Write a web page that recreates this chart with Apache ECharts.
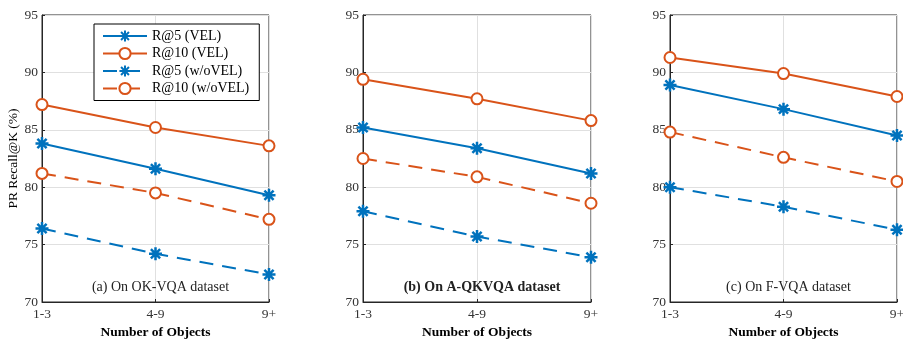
<!DOCTYPE html>
<html><head><meta charset="utf-8">
<script src="https://cdn.jsdelivr.net/npm/echarts@6/dist/echarts.min.js"></script>
<style>html,body{margin:0;padding:0;background:#fff}#c{width:903px;height:340px}</style>
</head><body><div id="c"></div>
<script>
const categories = ['1-3', '4-9', '9+'];
const seriesNames = ['R@5 (VEL)', 'R@10 (VEL)', 'R@5 (w/oVEL)', 'R@10 (w/oVEL)'];
// panel (a) OK-VQA
const okR5Vel = [83.8, 81.6, 79.3];
const okR10Vel = [87.2, 85.2, 83.6];
const okR5Wo = [76.4, 74.2, 72.4];
const okR10Wo = [81.2, 79.5, 77.2];
// panel (b) A-QKVQA
const aqR5Vel = [85.2, 83.4, 81.2];
const aqR10Vel = [89.4, 87.7, 85.8];
const aqR5Wo = [77.9, 75.7, 73.9];
const aqR10Wo = [82.5, 80.9, 78.6];
// panel (c) F-VQA
const fR5Vel = [88.9, 86.8, 84.5];
const fR10Vel = [91.3, 89.9, 87.9];
const fR5Wo = [80.0, 78.3, 76.3];
const fR10Wo = [84.8, 82.6, 80.5];
const yTicks = [70, 75, 80, 85, 90, 95];
const panelTitles = ['(a) On OK-VQA dataset', '(b) On A-QKVQA dataset', '(c) On F-VQA dataset'];

const BLUE = '#0072BD', ORANGE = '#D95319', AX = '#262626';
const FONT = '"Liberation Serif", "DejaVu Serif", serif';
const STAR = 'path://M0,-10L0,10M-10,0L10,0M-7.07,-7.07L7.07,7.07M-7.07,7.07L7.07,-7.07';

const panels = [
  [okR5Vel, okR10Vel, okR5Wo, okR10Wo],
  [aqR5Vel, aqR10Vel, aqR5Wo, aqR10Wo],
  [fR5Vel, fR10Vel, fR5Wo, fR10Wo]
];
const gridPos = [{left: 42, width: 227}, {left: 363, width: 228}, {left: 670, width: 227}];

const grid = [], xAxis = [], yAxis = [], series = [], title = [];
gridPos.forEach((g, i) => {
  grid.push({left: g.left, width: g.width, top: 15, bottom: 38, show: true, borderColor: AX, borderWidth: 1,
    backgroundColor: '#fff', containLabel: false, outerBoundsMode: 'none'});
  xAxis.push({
    type: 'category', gridIndex: i, data: categories, boundaryGap: false,
    name: 'Number of Objects', nameLocation: 'middle', nameGap: 24,
    nameTextStyle: {fontFamily: FONT, fontSize: 13.5, fontWeight: 'bold', color: '#000'},
    axisLine: {show: true, lineStyle: {color: AX}},
    axisTick: {show: true, inside: true, length: 3, alignWithLabel: true, lineStyle: {color: AX}},
    axisLabel: {fontFamily: FONT, fontSize: 13.5, color: '#333', margin: 5, showMinLabel: true, showMaxLabel: true},
    splitLine: {show: true, lineStyle: {color: '#e0e0e0'}}
  });
  yAxis.push({
    type: 'value', gridIndex: i, min: 70, max: 95, interval: 5,
    name: i === 0 ? 'PR Recall@K (%)' : '', nameLocation: 'middle', nameGap: 21, nameRotate: 90,
    nameTextStyle: {fontFamily: FONT, fontSize: 13.5, color: '#000'},
    axisLine: {show: true, lineStyle: {color: AX}},
    axisTick: {show: true, inside: true, length: 3, lineStyle: {color: AX}},
    axisLabel: {fontFamily: FONT, fontSize: 13.5, color: '#333', margin: 4,
      formatter: v => yTicks.includes(v) ? String(v) : ''},
    splitLine: {show: true, lineStyle: {color: '#e0e0e0'}}
  });
  panels[i].forEach((vals, k) => {
    const isBlue = k % 2 === 0;
    const col = isBlue ? BLUE : ORANGE;
    series.push({
      name: seriesNames[k], type: 'line', xAxisIndex: i, yAxisIndex: i, data: vals,
      symbol: isBlue ? STAR : 'circle', symbolSize: isBlue ? 13 : 11,
      showAllSymbol: true,
      lineStyle: {color: col, width: 2, type: k >= 2 ? [14, 9] : 'solid'},
      itemStyle: isBlue ? {color: col, borderColor: col, borderWidth: 2.5}
                        : {color: '#fff', borderColor: col, borderWidth: 2},
      emphasis: {disabled: true}, animation: false, z: 3
    });
  });
  title.push({
    text: panelTitles[i], left: g.left + g.width / 2, textAlign: 'center', top: 275,
    textStyle: {fontFamily: FONT, fontSize: 14, fontWeight: i === 1 ? 'bold' : 'normal', color: '#222'}
  });
});

const chart = echarts.init(document.getElementById('c'), null, {renderer: 'canvas'});
chart.setOption({
  animation: false,
  title, grid, xAxis, yAxis, series,
  legend: {
    data: seriesNames, orient: 'vertical', left: 94, top: 24, width: 166,
    backgroundColor: '#fff', borderColor: '#000', borderWidth: 1,
    padding: [5, 10, 5, 8], itemGap: 3.5, itemWidth: 44, itemHeight: 14,
    textStyle: {fontFamily: FONT, fontSize: 14, color: '#000'},
    selectedMode: false
  }
});
</script></body></html>
